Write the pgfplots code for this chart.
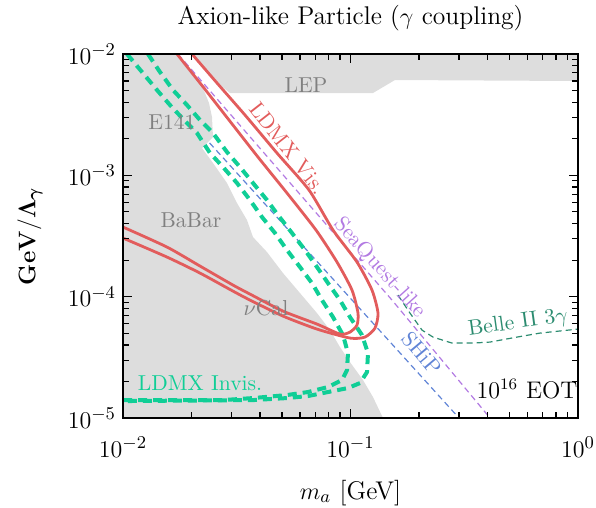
\documentclass[border=0pt]{standalone}
\usepackage{pgfplots}
\pgfplotsset{compat=1.18}
\usepackage{bm}
\definecolor{ldmxred}{RGB}{226,92,92}
\definecolor{ldmxgreen}{RGB}{16,206,150}
\definecolor{sqpurple}{RGB}{178,122,226}
\definecolor{shipblue}{RGB}{96,132,214}
\definecolor{belleteal}{RGB}{44,140,112}
\definecolor{greyfill}{RGB}{221,221,221}
\definecolor{greytext}{RGB}{128,128,128}
\begin{document}
\begin{tikzpicture}
\begin{loglogaxis}[
  scale only axis, width=227.5pt, height=182pt,
  xmin=1e-2, xmax=1, ymin=1e-5, ymax=1e-2,
  axis on top,
  xtick pos=both, ytick pos=both, tick align=inside,
  axis line style={line width=0.8pt},
  every tick/.style={black, line width=0.6pt},
  title={Axion-like Particle ($\gamma$ coupling)},
  title style={font=\fontsize{12.8}{15}\selectfont, yshift=2pt},
  xlabel={$m_a$ [GeV]},
  ylabel={$\mathbf{GeV}/\bm{\Lambda_\gamma}$},
  tick label style={font=\fontsize{12.8}{15}\selectfont},
  xticklabel style={yshift=-6pt},
  every axis x label/.style={at={(axis description cs:0.5,-0.206)}, anchor=center, font=\fontsize{12.8}{15}\selectfont},
  every axis y label/.style={at={(axis description cs:-0.2044,0.5)}, rotate=90, anchor=center, font=\fontsize{12.8}{15}\selectfont},
]
\coordinate (bl) at (rel axis cs:0,0);
\coordinate (tr) at (rel axis cs:1,1);
% SHiP (partly hidden by grey)
\addplot[shipblue, line width=0.6pt, dash pattern=on 3pt off 2pt] coordinates {(0.010626,0.01) (0.29987,1e-5)};
% grey excluded regions
\addplot[fill=greyfill, draw=none] coordinates {
(0.01,1e-5) (0.01,0.01) (0.017449,0.01) (0.021801,5.767e-3) (0.022933,4.770e-3)
(0.023880,3.945e-3) (0.024616,3.024e-3) (0.024866,2.069e-3) (0.022247,1.679e-3)
(0.024866,1.263e-3) (0.028651,8.641e-4) (0.031703,5.911e-4) (0.035079,4.281e-4)
(0.037275,3.100e-4) (0.042950,2.331e-4) (0.050500,1.565e-4) (0.059983,1.070e-4)
(0.071247,7.323e-5) (0.081265,5.303e-5) (0.089920,3.841e-5) (0.099495,2.888e-5)
(0.11349,2.055e-5) (0.12558,1.488e-5) (0.13895,1e-5)} -- cycle;
\addplot[fill=greyfill, draw=none] coordinates {
(0.020105,0.01) (0.026691,5.552e-3) (0.029535,4.770e-3) (0.12558,4.770e-3)
(0.15689,6.105e-3) (1,5.990e-3) (1,0.01)} -- cycle;
% SeaQuest-like
\addplot[sqpurple, line width=0.6pt, dash pattern=on 3pt off 2pt] coordinates {(0.017449,0.01) (0.15220,9.372e-5) (0.41036,1e-5)};
% Belle II 3gamma
\addplot[belleteal, line width=0.6pt, dash pattern=on 3pt off 2pt] coordinates {
(0.1617,1.031e-4) (0.18262,7.323e-5) (0.2062,5.303e-5) (0.23049,4.645e-5)
(0.27935,4.145e-5) (0.3455,4.145e-5) (0.41036,4.225e-5) (0.53937,4.645e-5)
(0.68077,5.010e-5) (1.0,5.405e-5)};
% LDMX invisible
\addplot[ldmxgreen, line width=2pt, dash pattern=on 4.5pt off 3pt] coordinates {
(0.010413,0.01) (0.012121,7.106e-3) (0.014108,5.049e-3) (0.016091,3.798e-3)
(0.018542,2.857e-3) (0.021149,2.232e-3) (0.024123,1.527e-3) (0.027514,1.171e-3)
(0.031703,8.641e-4) (0.036161,6.257e-4) (0.04083,4.531e-4) (0.046572,3.345e-4)
(0.052587,2.422e-4) (0.059983,1.754e-4) (0.067731,1.294e-4) (0.074945,9.372e-5)
(0.08377,6.787e-5) (0.092692,4.824e-5) (0.097504,3.428e-5) (0.096523,2.483e-5)
(0.091759,2.055e-5) (0.079637,1.799e-5) (0.065044,1.637e-5) (0.052587,1.546e-5)
(0.037275,1.460e-5) (0.027514,1.405e-5) (0.01,1.405e-5)};
\addplot[ldmxgreen, line width=2pt, dash pattern=on 4.5pt off 3pt] coordinates {
(0.012879,0.01) (0.014543,7.106e-3) (0.016588,5.049e-3) (0.019114,3.798e-3)
(0.021801,2.857e-3) (0.024866,2.232e-3) (0.028651,1.556e-3) (0.03268,1.171e-3)
(0.037275,8.641e-4) (0.04295,6.257e-4) (0.048008,4.706e-4) (0.055317,3.345e-4)
(0.063096,2.422e-4) (0.071247,1.754e-4) (0.079637,1.294e-4) (0.08992,9.372e-5)
(0.099495,6.787e-5) (0.11234,4.824e-5) (0.11938,3.428e-5) (0.11818,2.391e-5)
(0.11009,1.941e-5) (0.097504,1.766e-5) (0.079637,1.637e-5) (0.065044,1.517e-5)
(0.052587,1.460e-5) (0.037275,1.405e-5) (0.01,1.379e-5)};
% LDMX visible
\addplot[ldmxred, line width=1.4pt, smooth, tension=0.4] coordinates {
(0.017273,0.01) (0.02270,5.244e-3) (0.02924,2.857e-3) (0.03921,1.415e-3)
(0.052587,7.147e-4) (0.07054,3.542e-4) (0.08723,1.929e-4) (0.10153,1.133e-4)
(0.10789,7.323e-5) (0.10680,5.831e-5) (0.099495,5.106e-5) (0.08992,4.916e-5)
(0.071247,5.943e-5) (0.0505,7.606e-5) (0.036161,1.050e-4) (0.030445,1.246e-4)
(0.021801,1.788e-4) (0.01561,2.564e-4) (0.01,3.748e-4)};
\addplot[ldmxred, line width=1.4pt, smooth, tension=0.4] coordinates {
(0.020105,0.01) (0.02590,5.767e-3) (0.03438,3.141e-3) (0.04752,1.527e-3)
(0.06572,7.566e-4) (0.08377,3.542e-4) (0.1068,1.929e-4) (0.12431,1.133e-4)
(0.13209,7.323e-5) (0.12814,5.508e-5) (0.11581,4.645e-5) (0.099495,4.558e-5)
(0.071247,5.405e-5) (0.0505,6.917e-5) (0.036161,9.372e-5) (0.030445,1.111e-4)
(0.021801,1.565e-4) (0.01561,2.120e-4) (0.01,3.042e-4)};
% labels
\begin{scope}[every node/.style={font=\fontsize{10.8}{12}\selectfont}]
\node[greytext] at (axis cs:0.06374,5.552e-3) {LEP};
\node[greytext] at (axis cs:0.01642,2.751e-3) {E141};
\node[greytext] at (axis cs:0.01990,4.281e-4) {BaBar};
\node[greytext] at (axis cs:0.04251,8.05e-5) {$\nu$Cal};
\node[ldmxred, rotate=-52] at (axis cs:0.05312,1.679e-3) {LDMX Vis.};
\node[sqpurple, rotate=-48] at (axis cs:0.1345,1.72e-4) {SeaQuest-like};
\node[shipblue, rotate=-50] at (axis cs:0.2060,3.428e-5) {SHiP};
\node[belleteal, rotate=8] at (axis cs:0.5449,6.06e-5) {Belle II 3$\gamma$};
\node[ldmxgreen] at (axis cs:0.021801,1.941e-5) {LDMX Invis.};
\node[black, font=\fontsize{12}{14}\selectfont] at (axis cs:0.5969,1.731e-5) {10$^{16}$ EOT};
\end{scope}
\end{loglogaxis}
\pgfresetboundingbox
\path ([xshift=-61.5pt,yshift=-45pt]bl) rectangle ([xshift=9pt,yshift=27pt]tr);
\end{tikzpicture}
\end{document}
